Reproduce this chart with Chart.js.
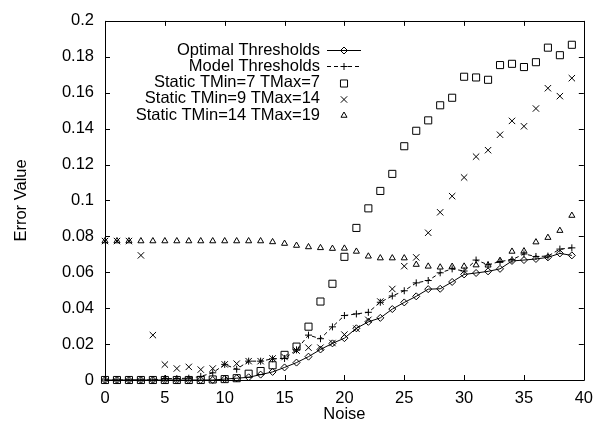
<!DOCTYPE html>
<html>
<head>
<meta charset="utf-8">
<script src="https://cdn.jsdelivr.net/npm/chart.js@4/dist/chart.umd.min.js"></script>
<style>
  html, body { margin: 0; padding: 0; background: #fff; }
  #c { display: block; }
</style>
</head>
<body>
<canvas id="c" width="602" height="424" style="width:602px;height:424px"></canvas>
<script>
// noise levels on x
const noise = [0,1,2,3,4,5,6,7,8,9,10,11,12,13,14,15,16,17,18,19,20,21,22,23,24,25,26,27,28,29,30,31,32,33,34,35,36,37,38,39];

const optimal = [0,0,0,0,0,0,0,0,0,0,
  0.0005,0.001,0.0015,0.003,0.0045,0.007,0.0097,0.013,0.017,0.0204,
  0.0233,0.0288,0.0324,0.0346,0.0395,0.0432,0.0466,0.0506,0.0508,0.0546,
  0.0588,0.0596,0.0605,0.0619,0.0663,0.0668,0.0674,0.0683,0.0705,0.0694];

const model = [0,0,0,0,0,0.0008,0.0008,0.001,0.002,0.004,
  0.0087,0.006,0.0105,0.0105,0.0118,0.012,0.0168,0.025,0.023,0.0296,
  0.0359,0.0368,0.0377,0.0433,0.0468,0.0497,0.0541,0.0554,0.0597,0.0619,
  0.0607,0.0668,0.0642,0.066,0.067,0.0702,0.0688,0.069,0.0729,0.0736];

const static7 = [0,0,0,0,0,0,0,0,0,0.0003,
  0.0005,0.001,0.0035,0.005,0.0082,0.014,0.0186,0.0297,0.0437,0.0536,
  0.0686,0.0847,0.0956,0.1053,0.1148,0.1302,0.1388,0.1446,0.153,0.1572,
  0.1689,0.1685,0.1672,0.1754,0.1761,0.1743,0.177,0.1851,0.1809,0.1867];

const static9 = [0.0774,0.0774,0.0774,0.0694,0.025,0.0086,0.0064,0.0073,0.0058,0.0064,
  0.0087,0.0091,0.0105,0.0105,0.012,0.0128,0.0164,0.018,0.018,0.0206,
  0.0253,0.0286,0.0335,0.0437,0.0507,0.0634,0.0683,0.082,0.0934,0.1024,
  0.1128,0.1244,0.128,0.1366,0.1443,0.1413,0.1512,0.1625,0.1581,0.1681];

const static14 = [0.0774,0.0774,0.0774,0.0774,0.0774,0.0774,0.0774,0.0774,0.0774,0.0774,
  0.0774,0.0774,0.0774,0.0774,0.0769,0.076,0.0749,0.0741,0.0736,0.0732,
  0.0733,0.0716,0.0689,0.0679,0.0679,0.0679,0.0643,0.0633,0.0628,0.0632,
  0.0633,0.064,0.0639,0.0665,0.0716,0.0718,0.0768,0.0793,0.0832,0.0916];

const labels = ['Optimal Thresholds', 'Model Thresholds', 'Static TMin=7 TMax=7',
  'Static TMin=9 TMax=14', 'Static TMin=14 TMax=19'];

const yTickLabels = ['0','0.02','0.04','0.06','0.08','0.1','0.12','0.14','0.16','0.18','0.2'];

const FONT = '"Liberation Sans", Arial, Helvetica, sans-serif';
const pts = (arr) => arr.map((v, i) => ({ x: noise[i], y: v }));

function mkSet(label, data, style, radius, line, dash) {
  return {
    label,
    data: pts(data),
    showLine: line,
    borderColor: '#000',
    borderWidth: 1,
    borderDash: dash || [],
    backgroundColor: 'rgba(0,0,0,0)',
    pointStyle: style,
    pointRadius: radius,
    pointBorderColor: '#000',
    pointBackgroundColor: 'rgba(0,0,0,0)',
    pointBorderWidth: 1,
    tension: 0,
    clip: false
  };
}

// box + inward ticks, gnuplot style
const frame = {
  id: 'frame',
  beforeDatasetsDraw(chart) {
    const { ctx, chartArea: a, scales: { x, y } } = chart;
    const L = 5;
    ctx.save();
    ctx.strokeStyle = '#000';
    ctx.lineWidth = 1;
    ctx.beginPath();
    ctx.rect(Math.round(a.left) + 0.5, Math.round(a.top) + 0.5,
      Math.round(a.right - a.left), Math.round(a.bottom - a.top));
    x.ticks.forEach(t => {
      const px = Math.round(x.getPixelForValue(t.value)) + 0.5;
      ctx.moveTo(px, a.bottom); ctx.lineTo(px, a.bottom - L);
      ctx.moveTo(px, a.top); ctx.lineTo(px, a.top + L);
    });
    y.ticks.forEach(t => {
      const py = Math.round(y.getPixelForValue(t.value)) + 0.5;
      ctx.moveTo(a.left, py); ctx.lineTo(a.left + L, py);
      ctx.moveTo(a.right, py); ctx.lineTo(a.right - L, py);
    });
    ctx.stroke();
    ctx.restore();
  }
};

// key in the top-left, text right aligned with sample to its right
const key = {
  id: 'key',
  afterDraw(chart) {
    const ctx = chart.ctx;
    ctx.save();
    ctx.font = '16.5px ' + FONT;
    ctx.textAlign = 'right';
    ctx.textBaseline = 'middle';
    chart.data.datasets.forEach((ds, i) => {
      const y = 50 + i * 16.3;
      ctx.fillStyle = '#000';
      ctx.fillText(ds.label, 320, y);
      ctx.strokeStyle = '#000';
      ctx.lineWidth = 1;
      if (ds.showLine) {
        ctx.beginPath();
        ctx.setLineDash(ds.borderDash);
        ctx.moveTo(327, Math.round(y) + 0.5);
        ctx.lineTo(361, Math.round(y) + 0.5);
        ctx.stroke();
        ctx.setLineDash([]);
      }
      ctx.fillStyle = 'rgba(0,0,0,0)';
      Chart.helpers.drawPoint(ctx, {
        pointStyle: ds.pointStyle, radius: ds.pointRadius, borderWidth: 1, rotation: 0
      }, 344, Math.round(y) + 0.5);
    });
    ctx.restore();
  }
};

new Chart(document.getElementById('c'), {
  type: 'line',
  data: {
    datasets: [
      mkSet(labels[0], optimal, 'rectRot', 3.5, true),
      mkSet(labels[1], model, 'cross', 3.5, true, [4, 3]),
      mkSet(labels[2], static7, 'rect', 5, false),
      mkSet(labels[3], static9, 'crossRot', 4.5, false),
      mkSet(labels[4], static14, 'triangle', 3.5, false)
    ]
  },
  options: {
    responsive: false,
    animation: false,
    devicePixelRatio: 1,
    layout: { padding: { left: 0, top: 14, right: 18, bottom: 0 } },
    plugins: { legend: { display: false }, tooltip: { enabled: false } },
    scales: {
      x: {
        type: 'linear',
        min: 0, max: 40,
        afterFit(s) { s.height = 44; },
        grid: { display: false, drawTicks: false },
        border: { display: false },
        ticks: { stepSize: 5, padding: 9, color: '#000', font: { family: FONT, size: 16.5 }, maxRotation: 0 },
        title: { display: true, text: 'Noise', color: '#000', font: { family: FONT, size: 16.5 }, padding: { top: 0, bottom: 0 } }
      },
      y: {
        type: 'linear',
        min: 0, max: 0.2,
        afterFit(s) { s.width = 105; },
        grid: { display: false, drawTicks: false },
        border: { display: false },
        ticks: {
          stepSize: 0.02, padding: 11, color: '#000',
          font: { family: FONT, size: 16.5 },
          callback: (v, i) => yTickLabels[i]
        },
        title: { display: true, text: 'Error Value', color: '#000', font: { family: FONT, size: 16.5 }, padding: { top: 12, bottom: 0 } }
      }
    }
  },
  plugins: [frame, key]
});
</script>
</body>
</html>
